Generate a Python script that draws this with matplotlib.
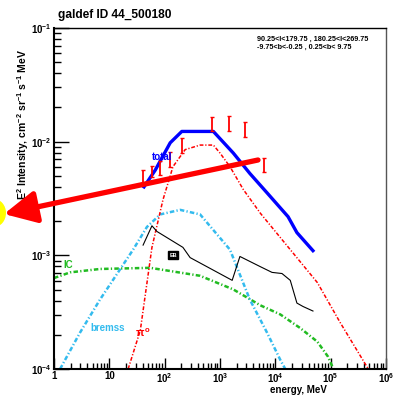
import matplotlib
matplotlib.use('Agg')

from matplotlib import pyplot as plt
from matplotlib.patches import FancyArrowPatch, Ellipse
import matplotlib.ticker as mticker
import numpy as np

plt.rcParams['font.family'] = ['Liberation Sans', 'DejaVu Sans']
plt.rcParams['mathtext.fontset'] = 'custom'
plt.rcParams['mathtext.rm'] = 'Liberation Sans:bold'
plt.rcParams['mathtext.it'] = 'Liberation Sans:bold'
plt.rcParams['mathtext.bf'] = 'Liberation Sans:bold'

# values, as log10(E [MeV]) and log10(E^2 I)
total_logE = [1.61, 1.83, 2.10, 2.31, 2.88, 3.24, 3.54, 3.85, 4.23, 4.39, 4.70]
total_logI = [-2.41, -2.25, -2.01, -1.91, -1.91, -2.10, -2.28, -2.45, -2.66, -2.80, -2.97]

pi0_logE = [1.34, 1.56, 1.77, 1.97, 2.15, 2.37, 2.64, 2.88, 3.00, 3.18, 3.42, 3.73, 4.27, 4.76, 5.17, 5.68]
pi0_logI = [-4.0, -3.66, -2.93, -2.51, -2.22, -2.07, -2.03, -2.03, -2.10, -2.22, -2.42, -2.63, -2.95, -3.24, -3.59, -4.0]

brems_logE = [0.11, 0.47, 0.83, 1.43, 1.68, 1.92, 2.28, 2.64, 3.18, 3.54, 3.85, 4.09, 4.18]
brems_logI = [-4.0, -3.68, -3.39, -2.95, -2.75, -2.64, -2.60, -2.64, -2.95, -3.39, -3.68, -3.92, -4.0]

ic_logE = [0.0, 0.29, 0.83, 1.74, 2.64, 3.24, 3.73, 4.09, 4.45, 4.76, 4.95, 5.05]
ic_logI = [-3.20, -3.15, -3.12, -3.11, -3.18, -3.30, -3.44, -3.52, -3.64, -3.76, -3.89, -4.0]

black_logE = [1.61, 1.77, 1.86, 2.33, 2.46, 3.22, 3.36, 3.73, 3.94, 4.12, 4.27, 4.39, 4.50, 4.68]
black_logI = [-2.91, -2.74, -2.79, -2.93, -3.02, -3.22, -3.01, -3.10, -3.15, -3.16, -3.22, -3.42, -3.45, -3.49]

data_logE = [1.61, 1.77, 1.92, 2.10, 2.31, 2.86, 3.16, 3.45, 3.80]
data_lo = [-2.37, -2.31, -2.29, -2.22, -2.10, -1.91, -1.91, -1.96, -2.27]
data_hi = [-2.25, -2.21, -2.17, -2.09, -1.97, -1.78, -1.77, -1.83, -2.14]

xtick_vals = [1, 10, 1e2, 1e3, 1e4, 1e5, 1e6]
xtick_labels = ['1', '10', r'$10^{2}$', r'$10^{3}$', r'$10^{4}$', r'$10^{5}$', r'$10^{6}$']
ytick_vals = [1e-4, 1e-3, 1e-2, 1e-1]
ytick_labels = [r'$10^{-4}$', r'$10^{-3}$', r'$10^{-2}$', r'$10^{-1}$']


def p(v):
    return 10 ** np.array(v)


fig = plt.figure(figsize=(3.98, 4.03), dpi=100)
ax = fig.add_axes([54 / 398, 34 / 403, 332 / 398, 341 / 403])
ax.set_xscale('log')
ax.set_yscale('log')
ax.set_xlim(1, 1e6)
ax.set_ylim(1e-4, 1e-1)

ax.plot(p(ic_logE), p(ic_logI), color='#22bb22', lw=1.8, ls=(0, (1.8, 0.9, 0.5, 0.9)))
ax.plot(p(brems_logE), p(brems_logI), color='#33bbee', lw=1.8, ls=(0, (1.8, 0.9, 0.5, 0.9)))
ax.plot(p(pi0_logE), p(pi0_logI), color='red', lw=1.1, ls=(0, (2.5, 1.2, 0.8, 1.2)))
ax.plot(p(black_logE), p(black_logI), color='black', lw=0.8)
ax.plot(p(total_logE), p(total_logI), color='blue', lw=2.4, solid_capstyle='butt')

lo = p(data_lo)
hi = p(data_hi)
ax.errorbar(p(data_logE), np.sqrt(lo * hi), yerr=[np.sqrt(lo * hi) - lo, hi - np.sqrt(lo * hi)],
            fmt='none', ecolor='red', elinewidth=1.3, capsize=1.5, capthick=1)

ax.text(59, 7.4e-3, 'total', color='blue', fontsize=7, fontweight='bold', va='center')
ax.text(1.45, 8.3e-4, 'IC', color='#22bb22', fontsize=7, fontweight='bold', va='center')
ax.text(4.5, 2.3e-4, 'bremss', color='#33bbee', fontsize=7, fontweight='bold', va='center')
ax.text(29, 2.1e-4, r'$\pi^{o}$', color='red', fontsize=8, va='center')
ax.text(142, 1.0e-3, 'EB', color='white', fontsize=4, fontweight='bold', va='center', ha='center',
        bbox=dict(boxstyle='square,pad=0.25', fc='black', ec='black'))

ax.text(0.61, 0.966, '90.25<l<179.75 , 180.25<l<269.75', transform=ax.transAxes,
        fontsize=5.2, fontweight='bold', va='center')
ax.text(0.61, 0.942, '-9.75<b<-0.25 , 0.25<b< 9.75', transform=ax.transAxes,
        fontsize=5.2, fontweight='bold', va='center')

ax.set_xticks(xtick_vals)
ax.set_xticklabels(xtick_labels, fontsize=7, fontweight='bold')
ax.set_yticks(ytick_vals)
ax.set_yticklabels(ytick_labels, fontsize=7, fontweight='bold')
ax.xaxis.set_minor_locator(mticker.LogLocator(base=10, subs=np.arange(2, 10), numticks=20))
ax.yaxis.set_minor_locator(mticker.LogLocator(base=10, subs=np.arange(2, 10), numticks=20))
ax.xaxis.set_minor_formatter(mticker.NullFormatter())
ax.yaxis.set_minor_formatter(mticker.NullFormatter())
ax.tick_params(which='both', direction='in', top=False, right=False, width=1)
ax.tick_params(axis='x', which='major', length=8, pad=1.5)
ax.tick_params(axis='x', which='minor', length=4)
ax.tick_params(axis='y', which='major', length=11, pad=2)
ax.tick_params(axis='y', which='minor', length=5)
for s in ax.spines.values():
    s.set_linewidth(1.0)
ax.spines['left'].set_linewidth(1.5)
ax.spines['bottom'].set_linewidth(1.5)
ax.spines['right'].set_color('#555555')

fig.text(58 / 398, 1 - 15 / 403, 'galdef ID 44_500180', fontsize=8.6, fontweight='bold', va='center')
fig.text(327 / 398, 1 - 390 / 403, 'energy, MeV', fontsize=7, fontweight='bold', va='center', ha='right')
fig.text(23 / 398, 1 - 200 / 403, r'E$^{2}$ Intensity, cm$^{-2}$ sr$^{-1}$ s$^{-1}$ MeV',
         fontsize=7.5, fontweight='bold', rotation=90, ha='center', va='bottom')

# annotation overlay: yellow spot and red arrow
fig.patches.append(Ellipse((-6 / 398, 1 - 213 / 403), 24 / 398, 28 / 403,
                           transform=fig.transFigure, fc='yellow', ec='none', zorder=5))
fig.patches.append(FancyArrowPatch((258 / 398, 1 - 160 / 403), (4 / 398, 1 - 214 / 403),
                                   transform=fig.transFigure, arrowstyle='-|>,head_length=1.4,head_width=0.7',
                                   mutation_scale=14, lw=3.8, color='red', zorder=6,
                                   shrinkA=0, shrinkB=0))

fig.savefig('out.png', dpi=100)
